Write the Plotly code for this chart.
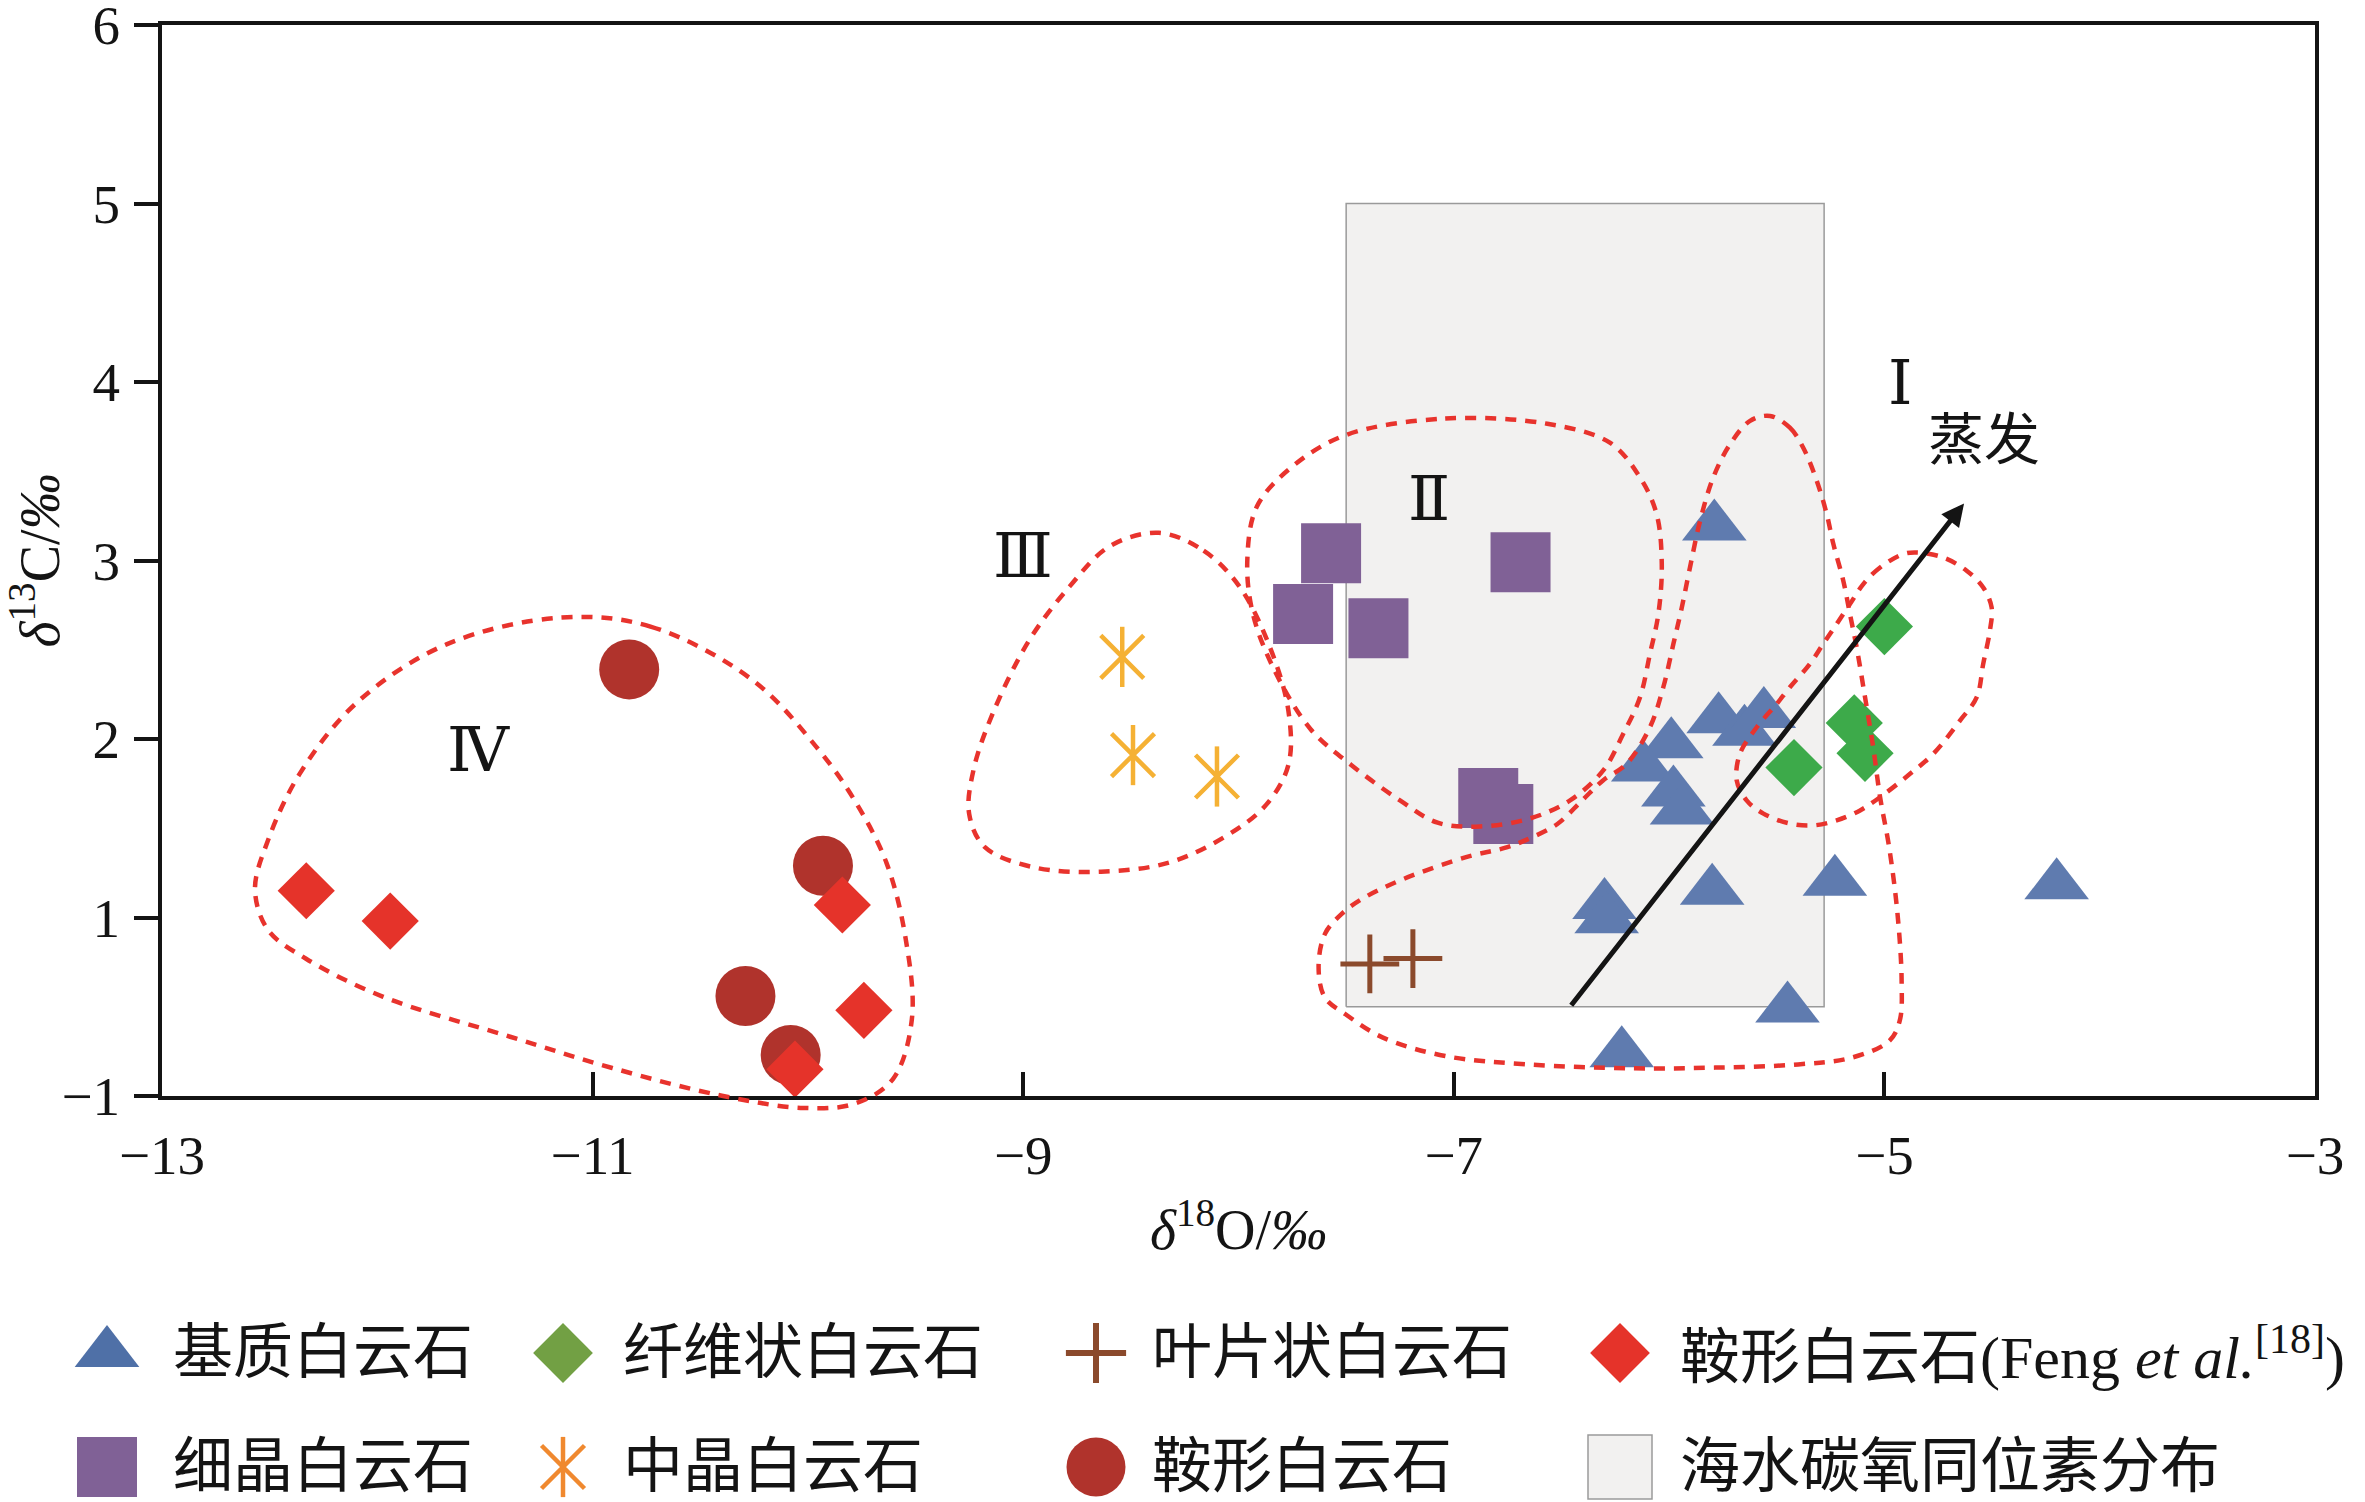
import plotly.graph_objects as go

# ---------------- data ----------------
# 基质白云石 (matrix dolomite)
matrix_d18O = [-5.79, -5.77, -5.65, -5.56, -5.99, -6.12, -5.98, -5.94, -6.30, -6.29,
               -5.80, -5.23, -4.20, -5.45, -6.22]
matrix_d13C = [3.19, 2.11, 2.04, 2.14, 1.97, 1.84, 1.70, 1.60, 1.07, 0.99,
               1.15, 1.20, 1.18, 0.49, 0.24]
# 纤维状白云石 (fibrous dolomite)
fibrous_d18O = [-5.00, -5.14, -5.09, -5.42]
fibrous_d13C = [2.63, 2.09, 1.92, 1.84]
# 叶片状白云石 (bladed dolomite)
bladed_d18O = [-7.39, -7.19]
bladed_d13C = [0.74, 0.77]
# 鞍形白云石 (Feng et al.)
saddle_feng_d18O = [-12.33, -11.94, -9.84, -9.74, -10.06]
saddle_feng_d13C = [1.15, 0.98, 1.07, 0.48, 0.15]
# 细晶白云石 (fine crystalline dolomite)
fine_d18O = [-7.57, -7.70, -7.35, -6.69, -6.84, -6.77]
fine_d13C = [3.04, 2.70, 2.62, 2.99, 1.67, 1.58]
# 中晶白云石 (medium crystalline dolomite)
medium_d18O = [-8.54, -8.49, -8.10]
medium_d13C = [2.46, 1.91, 1.79]
# 鞍形白云石 (saddle dolomite)
saddle_d18O = [-10.83, -9.93, -10.29, -10.08]
saddle_d13C = [2.39, 1.29, 0.56, 0.23]
# 海水碳氧同位素分布 (seawater range)
seawater_d18O = [-7.50, -5.28]
seawater_d13C = [0.50, 5.00]
# 蒸发 arrow (start, end)
evap_arrow_d18O = [-6.46, -4.63]
evap_arrow_d13C = [0.50, 3.32]

# hand-drawn region outlines
region_I_d18O = [-5.531, -5.439, -5.377, -5.314, -5.268, -5.237, -5.191, -5.160, -5.129, -5.090,
                 -5.052, -5.020, -4.978, -4.939, -4.920, -4.929, -4.978, -5.151, -5.401, -5.787,
                 -6.172, -6.654, -7.040, -7.329, -7.503, -7.599, -7.628, -7.599, -7.522, -7.426,
                 -7.233, -6.943, -6.751, -6.635, -6.519, -6.404, -6.307, -6.197, -6.089, -6.027,
                 -5.980, -5.941, -5.903, -5.856, -5.795, -5.717, -5.624]
region_I_d13C = [3.810, 3.744, 3.632, 3.446, 3.260, 3.092, 2.887, 2.700, 2.514, 2.234,
                 1.954, 1.674, 1.394, 1.019, 0.645, 0.421, 0.308, 0.215, 0.177, 0.159,
                 0.155, 0.177, 0.224, 0.327, 0.458, 0.552, 0.720, 0.907, 1.019, 1.104,
                 1.216, 1.338, 1.394, 1.450, 1.524, 1.656, 1.768, 1.861, 2.066, 2.290,
                 2.533, 2.737, 2.961, 3.222, 3.465, 3.651, 3.782]
region_Ib_d18O = [-4.912, -5.020, -5.098, -5.160, -5.222, -5.284, -5.346, -5.439, -5.500, -5.593,
                  -5.671, -5.686, -5.640, -5.562, -5.438, -5.330, -5.222, -5.113, -5.020, -4.881,
                  -4.773, -4.649, -4.571, -4.541, -4.510, -4.502, -4.541, -4.618, -4.727, -4.850]
region_Ib_d13C = [3.036, 2.961, 2.868, 2.756, 2.644, 2.533, 2.421, 2.290, 2.197, 2.066,
                  1.917, 1.768, 1.656, 1.582, 1.526, 1.516, 1.544, 1.600, 1.674, 1.805,
                  1.917, 2.103, 2.234, 2.421, 2.607, 2.737, 2.849, 2.943, 3.017, 3.045]
region_II_d18O = [-7.499, -7.040, -6.566, -6.275, -6.135, -6.058, -6.034, -6.050, -6.089, -6.135,
                  -6.213, -6.306, -6.460, -6.646, -6.878, -7.075, -7.250, -7.478, -7.665, -7.831,
                  -7.934, -7.959, -7.914, -7.747]
region_II_d13C = [3.704, 3.795, 3.766, 3.660, 3.465, 3.260, 2.980, 2.700, 2.477, 2.234,
                  2.029, 1.824, 1.656, 1.555, 1.510, 1.531, 1.656, 1.856, 2.055, 2.380,
                  2.705, 3.005, 3.304, 3.529]
region_III_d18O = [-8.370, -8.162, -7.996, -7.851, -7.768, -7.768, -7.872, -8.058, -8.328, -8.639,
                   -8.950, -9.178, -9.251, -9.230, -9.137, -8.971, -8.784, -8.598]
region_III_d13C = [3.155, 3.055, 2.855, 2.505, 2.156, 1.856, 1.631, 1.456, 1.306, 1.257,
                   1.281, 1.394, 1.581, 1.831, 2.156, 2.555, 2.855, 3.080]
region_IV_d18O = [-11.147, -10.731, -10.257, -9.961, -9.783, -9.635, -9.546, -9.517, -9.605, -9.783,
                  -10.020, -10.405, -10.909, -11.383, -11.975, -12.331, -12.508, -12.568, -12.508,
                  -12.360, -12.094, -11.679]
region_IV_d13C = [2.680, 2.630, 2.330, 1.956, 1.656, 1.306, 0.882, 0.432, 0.095, -0.043,
                  -0.067, 0.003, 0.157, 0.332, 0.557, 0.769, 0.931, 1.156, 1.431,
                  1.806, 2.205, 2.530]

x_tickvals = [-13, -11, -9, -7, -5, -3]
x_ticktext = ["\u221213", "\u221211", "\u22129", "\u22127", "\u22125", "\u22123"]
y_tickvals = [0, 1, 2, 3, 4, 5, 6]
y_ticktext = ["\u22121", "1", "2", "3", "4", "5", "6"]

legend_labels = ["基质白云石", "纤维状白云石", "叶片状白云石",
                 "鞍形白云石(Feng <i>et al.</i><sup>[18]</sup>)",
                 "细晶白云石", "中晶白云石", "鞍形白云石", "海水碳氧同位素分布"]

# ---------------- styling ----------------
W, H = 2365, 1502
SERIF = "Liberation Serif, Noto Sans CJK SC, serif"
INK = "#141414"
RED_DOT = "#E8332D"
PLOT_L, PLOT_R, PLOT_T, PLOT_B = 162, 2315, 25, 1096
Y_MIN, Y_MAX = 0, 6
PX_PER_Y = (PLOT_B - PLOT_T) / (Y_MAX - Y_MIN)
OUTLINE_EXTRA = 50  # px below the x axis where outline curves may still be drawn

fig = go.Figure()

# seawater box
sx = [seawater_d18O[0], seawater_d18O[1], seawater_d18O[1], seawater_d18O[0], seawater_d18O[0]]
sy = [seawater_d13C[0], seawater_d13C[0], seawater_d13C[1], seawater_d13C[1], seawater_d13C[0]]
fig.add_trace(go.Scatter(x=sx, y=sy, mode="lines", fill="toself", fillcolor="#F2F1F0",
                         line=dict(color="#9A9A9A", width=1.5), showlegend=False, hoverinfo="skip"))

def mk(x, y, symbol, size, color, line_w=0, line_c=None):
    m = dict(symbol=symbol, size=size, color=color)
    if line_w:
        m["line"] = dict(color=line_c or color, width=line_w)
    else:
        m["line"] = dict(width=0)
    return go.Scatter(x=x, y=y, mode="markers", marker=m, showlegend=False,
                      hoverinfo="x+y", cliponaxis=False)

fig.add_trace(mk(fine_d18O, fine_d13C, "square", 60, "#806196"))
fig.add_trace(mk(medium_d18O, medium_d13C, "x-thin-open", 43, "#F5B134", 4.5))
fig.add_trace(mk(medium_d18O, medium_d13C, "line-ns-open", 43, "#F5B134", 4.5))
fig.add_trace(mk(bladed_d18O, bladed_d13C, "cross-thin-open", 42, "#8B4A2C", 5))
fig.add_trace(mk(saddle_d18O, saddle_d13C, "circle", 60, "#B0332C"))
fig.add_trace(mk(saddle_feng_d18O, saddle_feng_d13C, "diamond", 44, "#E5332A"))
fig.add_trace(mk(matrix_d18O, matrix_d13C, "triangle-up", 56, "#5F7BAF"))
fig.add_trace(mk(fibrous_d18O, fibrous_d13C, "diamond", 44, "#3DAA4A"))

# region outlines (closed dotted curves) on an overlay axis with the same scale,
# extended a little below the x axis so the curves are not clipped there
for rx, ry in [(region_I_d18O, region_I_d13C), (region_Ib_d18O, region_Ib_d13C),
               (region_II_d18O, region_II_d13C), (region_III_d18O, region_III_d13C),
               (region_IV_d18O, region_IV_d13C)]:
    fig.add_trace(go.Scatter(x=rx + rx[:1], y=ry + ry[:1], mode="lines", xaxis="x3", yaxis="y3",
                             line=dict(color=RED_DOT, width=4.5, dash="11px,9px",
                                       shape="spline", smoothing=1.0),
                             showlegend=False, hoverinfo="skip"))

# ---------------- manual legend (helper axes in pixel units) ----------------
leg_sym_x = [107, 563, 1096, 1620]
leg_txt_x = [171, 621, 1150, 1678]
leg_row_y = [1353, 1467]
leg_styles = [
    [dict(symbol="triangle-up", size=56, color="#4F70A7")],
    [dict(symbol="diamond", size=46, color="#72A044")],
    [dict(symbol="cross-thin-open", size=43, color="#8B4A2C", line=dict(color="#8B4A2C", width=6))],
    [dict(symbol="diamond", size=46, color="#E5332A")],
    [dict(symbol="square", size=60, color="#806196")],
    [dict(symbol="x-thin-open", size=43, color="#F0892F", line=dict(color="#F0892F", width=4.5)),
     dict(symbol="line-ns-open", size=43, color="#F0892F", line=dict(color="#F0892F", width=4.5))],
    [dict(symbol="circle", size=59, color="#B0332C")],
    [dict(symbol="square", size=64, color="#F2F1F0", line=dict(color="#9A9A9A", width=1.5))],
]
annotations = []
for i, label in enumerate(legend_labels):
    col, row = i % 4, i // 4
    for st in leg_styles[i]:
        m = dict(st)
        m.setdefault("line", dict(width=0))
        fig.add_trace(go.Scatter(x=[leg_sym_x[col]], y=[leg_row_y[row]], mode="markers",
                                 marker=m, xaxis="x2", yaxis="y2", showlegend=False,
                                 hoverinfo="skip", cliponaxis=False))
    annotations.append(dict(x=leg_txt_x[col], y=leg_row_y[row], xref="x2", yref="y2",
                            text=label, showarrow=False, xanchor="left", yanchor="middle",
                            font=dict(family=SERIF, size=60, color=INK)))

# region labels and arrow
region_labels = [("Ⅰ", -4.925, 3.994), ("Ⅱ", -7.115, 3.342), ("Ⅲ", -9.003, 3.024), ("Ⅳ", -11.528, 1.936)]
for t, x, y in region_labels:
    annotations.append(dict(x=x, y=y, xref="x", yref="y", text=t, showarrow=False,
                            font=dict(family="Liberation Serif, DejaVu Serif, serif", size=62, color=INK)))
annotations.append(dict(x=-4.538, y=3.676, xref="x", yref="y", text="蒸发", showarrow=False,
                        font=dict(family=SERIF, size=56, color=INK)))
annotations.append(dict(x=evap_arrow_d18O[1], y=evap_arrow_d13C[1], ax=evap_arrow_d18O[0],
                        ay=evap_arrow_d13C[0], xref="x", yref="y", axref="x", ayref="y",
                        text="", showarrow=True, arrowhead=2, arrowsize=0.9, arrowwidth=5,
                        arrowcolor=INK))

tick_font = dict(family=SERIF, size=55, color=INK)
x_dom = [PLOT_L / W, PLOT_R / W]
y_dom = [1 - PLOT_B / H, 1 - PLOT_T / H]
fig.update_layout(
    width=W, height=H, autosize=False,
    margin=dict(l=0, r=0, t=0, b=0),
    paper_bgcolor="white", plot_bgcolor="rgba(0,0,0,0)",
    font=dict(family=SERIF, color=INK),
    showlegend=False,
    annotations=annotations,
    xaxis=dict(domain=x_dom, range=[-13, -3], tickvals=x_tickvals, ticktext=x_ticktext,
               ticks="inside", ticklen=24, tickwidth=4, tickcolor=INK,
               showline=True, linewidth=4, linecolor=INK, mirror=True,
               showgrid=False, zeroline=False, tickfont=tick_font, ticklabelstandoff=8,
               automargin=False, ticklabeloverflow="allow",
               title=dict(text="<i>δ</i><sup>18</sup>O/<i>‰</i>", font=dict(family=SERIF, size=56, color=INK),
                          standoff=26)),
    yaxis=dict(domain=y_dom, range=[Y_MIN, Y_MAX], tickvals=y_tickvals, ticktext=y_ticktext,
               ticks="outside", ticklen=24, tickwidth=4, tickcolor=INK,
               showline=True, linewidth=4, linecolor=INK, mirror=True,
               showgrid=False, zeroline=False, tickfont=tick_font, ticklabelstandoff=3,
               automargin=False, ticklabeloverflow="allow",
               title=dict(text="<i>δ</i><sup>13</sup>C/<i>‰</i>", font=dict(family=SERIF, size=56, color=INK),
                          standoff=10)),
    xaxis2=dict(domain=[0, 1], range=[0, W], visible=False, anchor="y2", fixedrange=True),
    yaxis2=dict(domain=[0, 252 / H], range=[H, H - 252], visible=False, anchor="x2", fixedrange=True),
    xaxis3=dict(domain=x_dom, range=[-13, -3], visible=False, anchor="y3", fixedrange=True),
    yaxis3=dict(domain=[1 - (PLOT_B + OUTLINE_EXTRA) / H, 1 - PLOT_T / H],
                range=[Y_MIN - OUTLINE_EXTRA / PX_PER_Y, Y_MAX], visible=False, anchor="x3",
                fixedrange=True),
)

fig.write_html("out.html", config={"displayModeBar": False},
               post_script="document.body.style.margin='0';")
